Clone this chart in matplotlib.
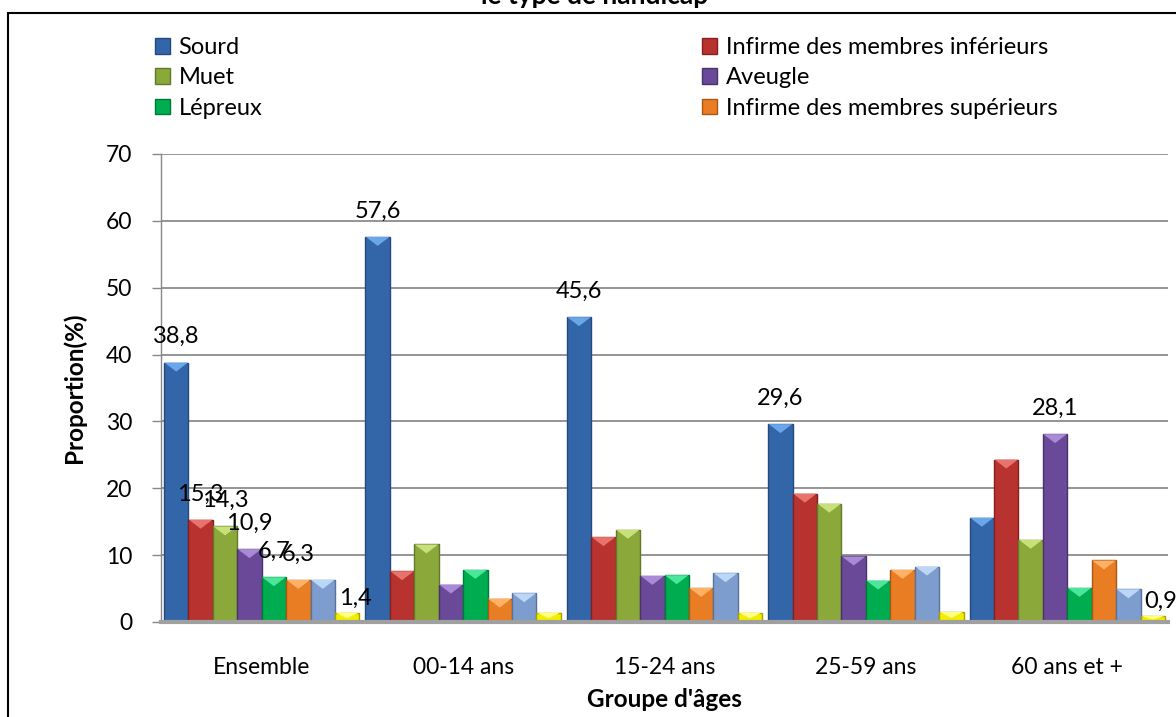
import matplotlib
matplotlib.use("Agg")
import matplotlib.pyplot as plt
from matplotlib.patches import Patch, Polygon, Rectangle
import numpy as np

plt.rcParams['font.family'] = ['Lato', 'DejaVu Sans']

# Data
categories = ["Ensemble", "00-14 ans", "15-24 ans", "25-59 ans", "60 ans et +"]
series_names = ["Sourd", "Infirme des membres inférieurs", "Muet", "Aveugle",
                "Lépreux", "Infirme des membres supérieurs", "Autre", "Non déclaré"]
sourd = [38.8, 57.6, 45.6, 29.6, 15.6]
infirme_inf = [15.3, 7.6, 12.7, 19.2, 24.3]
muet = [14.3, 11.6, 13.8, 17.7, 12.3]
aveugle = [10.9, 5.6, 6.9, 9.8, 28.1]
lepreux = [6.7, 7.8, 7.0, 6.2, 5.1]
infirme_sup = [6.3, 3.5, 5.1, 7.8, 9.2]
autre = [6.3, 4.3, 7.3, 8.3, 4.9]
non_declare = [1.4, 1.4, 1.4, 1.5, 0.9]
values = [sourd, infirme_inf, muet, aveugle, lepreux, infirme_sup, autre, non_declare]

# which bars carry a value label (series index -> category indices)
labelled = {0: [0, 1, 2, 3], 1: [0], 2: [0], 3: [0, 4], 4: [0], 5: [0], 7: [0, 4]}
in_legend = 6  # only the first six series appear in the legend

body = ['#3366A8', '#B8322F', '#8BA93B', '#6A4A98', '#00AC50', '#E97D24', '#7E9DCF', '#F2EE00']
edge = ['#244A7C', '#84211F', '#62792A', '#4A336C', '#007A38', '#A85812', '#58729A', '#A8A000']
light = ['#6AA6EA', '#E8736C', '#C8E07A', '#A98AD6', '#4AE79A', '#FFB266', '#BBD6F6', '#FFFF80']

fig = plt.figure(figsize=(11.76, 7.17), dpi=100)
ax = fig.add_axes([161 / 1176, 1 - 622 / 717, 1007 / 1176, 468 / 717])

n = len(values)
x = np.arange(len(categories))
width = 0.97 / n
ax.set_xlim(-0.5, len(categories) - 0.5)
ax.set_ylim(0, 70)

fig.canvas.draw()
px_to_data = 70 / ax.get_window_extent().height
tri_h = 9 * px_to_data

for i, vals in enumerate(values):
    pos = x - 0.485 + width * (i + 0.5)
    bars = ax.bar(pos, vals, width, color=body[i], edgecolor=edge[i], linewidth=1.0, zorder=3)
    for b in bars:
        x0, w, top = b.get_x(), b.get_width(), b.get_height()
        h = min(tri_h, top * 0.6)
        ax.add_patch(Polygon([(x0 + 0.002, top), (x0 + w - 0.002, top), (x0 + w / 2, top - h)],
                             closed=True, facecolor=light[i], edgecolor='none', zorder=4))
    # the small yellow bars have their labels closer and pushed a bit to the right
    dx, dy = (6, 3) if i == n - 1 else (0, 11)
    for j in labelled.get(i, []):
        ax.annotate(f"{vals[j]:.1f}".replace('.', ','), (pos[j], vals[j]),
                    xytext=(dx, dy), textcoords='offset points', ha='center', va='bottom',
                    fontsize=17, color='black', zorder=6, annotation_clip=False)

ax.set_yticks(range(0, 71, 10))
ax.tick_params(axis='y', labelsize=16.5, length=6.5, width=1, color='#888888', pad=14)
ax.set_xticks(x)
ax.set_xticklabels(categories)
ax.tick_params(axis='x', labelsize=16.5, length=0, pad=25)
ax.yaxis.grid(True, color='#8C8C8C', linewidth=1.3, zorder=0)
ax.set_axisbelow(True)
for s in ['top', 'right']:
    ax.spines[s].set_visible(False)
ax.spines['left'].set_color('#888888')
ax.spines['left'].set_linewidth(1)
ax.spines['bottom'].set_color('#A0A0A0')
ax.spines['bottom'].set_linewidth(3)
ax.spines['bottom'].set_zorder(5)

ax.set_ylabel("Proportion(%)", fontsize=17.5, fontweight='bold')
ax.yaxis.set_label_coords(-0.074, 0.5)
ax.set_xlabel("Groupe d'âges", fontsize=17.5, fontweight='bold')
ax.xaxis.set_label_coords(0.5, -0.14)

# legend in two columns, row-wise order
handles = [Patch(facecolor=body[i], edgecolor=edge[i], label=series_names[i]) for i in range(in_legend)]
kw = dict(frameon=False, fontsize=17, handlelength=0.65, handleheight=0.65,
          handletextpad=0.35, labelspacing=0.4, borderpad=0, borderaxespad=0, loc='upper left')
leg1 = fig.legend(handles=handles[0::2], bbox_to_anchor=(155 / 1176, 1 - 37 / 717), **kw)
leg2 = fig.legend(handles=handles[1::2], bbox_to_anchor=(702 / 1176, 1 - 37 / 717), **kw)

# chart frame and the clipped title
fig.patches.append(Rectangle((8 / 1176, -0.05), 1.1, 1 - 13 / 717 + 0.05, transform=fig.transFigure,
                             fill=False, edgecolor='black', linewidth=1.5))
fig.text(595 / 1176, 1 - 4 / 717, "le type de handicap", ha='center', va='baseline',
         fontsize=19, fontweight='bold')

fig.savefig("out.png", dpi=100)
